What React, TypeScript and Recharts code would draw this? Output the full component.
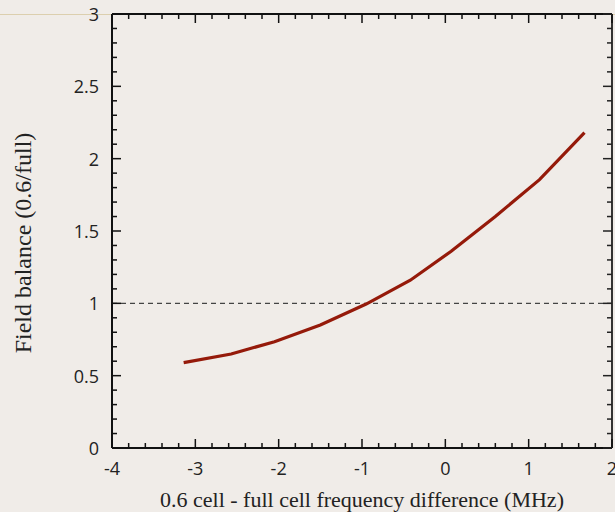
import { LineChart, Line, XAxis, YAxis, ReferenceLine } from "recharts";

// frequency difference (MHz) vs field balance (0.6/full)
const freqDiff = [-3.14, -2.57, -2.05, -1.5, -0.95, -0.42, 0.07, 0.6, 1.13, 1.67];
const fieldBalance = [0.59, 0.65, 0.735, 0.85, 0.995, 1.16, 1.36, 1.6, 1.855, 2.18];

const xMajor = [-4, -3, -2, -1, 0, 1, 2];
const yMajor = [0, 0.5, 1, 1.5, 2, 2.5, 3];

const data = freqDiff.map((x, i) => ({ x, y: fieldBalance[i] }));

// minor ticks: 5 per unit on x, 5 per half unit on y
const xTicks: number[] = [];
for (let i = 0; i <= 30; i++) xTicks.push(Math.round((-4 + i * 0.2) * 100) / 100);
const yTicks: number[] = [];
for (let i = 0; i <= 30; i++) yTicks.push(Math.round(i * 0.1 * 100) / 100);

const isMajorX = (v: number) => xMajor.includes(v);
const isMajorY = (v: number) => yMajor.includes(v);

const TICK_FONT = "'Open Sans', 'DejaVu Sans', sans-serif";
const TITLE_FONT = "'Liberation Serif', 'Times New Roman', serif";

const BottomTick = (props: any) => {
  const { x, y, payload } = props;
  const major = isMajorX(payload.value);
  return (
    <g>
      <line x1={x} x2={x} y1={y} y2={y - (major ? 9 : 5)} stroke="#111" strokeWidth={1.5} />
      {major && (
        <text x={x} y={y + 20} textAnchor="middle" dominantBaseline="central" fontSize={18} fontFamily={TICK_FONT} fill="#222">
          {payload.value}
        </text>
      )}
    </g>
  );
};

const TopTick = (props: any) => {
  const { x, y, payload } = props;
  const major = isMajorX(payload.value);
  return <line x1={x} x2={x} y1={y} y2={y + (major ? 9 : 5)} stroke="#111" strokeWidth={1.5} />;
};

const LeftTick = (props: any) => {
  const { x, y, payload } = props;
  const major = isMajorY(payload.value);
  return (
    <g>
      <line x1={x} x2={x + (major ? 9 : 5)} y1={y} y2={y} stroke="#111" strokeWidth={1.5} />
      {major && (
        <text x={x - 13} y={y} textAnchor="end" dominantBaseline="central" fontSize={18} fontFamily={TICK_FONT} fill="#222">
          {payload.value}
        </text>
      )}
    </g>
  );
};

const RightTick = (props: any) => {
  const { x, y, payload } = props;
  const major = isMajorY(payload.value);
  return <line x1={x} x2={x - (major ? 9 : 5)} y1={y} y2={y} stroke="#222" strokeWidth={1.5} />;
};

export default function App() {
  return (
    <div style={{ position: "absolute", left: 0, top: 0, width: 615, height: 512, background: "#f0ece8" }}>
      <div style={{ position: "absolute", left: 0, top: 14, width: 615, height: 1, background: "#dccfae" }} />
      <LineChart
        width={615}
        height={512}
        data={data}
        margin={{ top: 13, right: 2, bottom: 63, left: 111 }}
        style={{ position: "absolute", left: 0, top: 0 }}
      >
        <XAxis
          dataKey="x"
          type="number"
          domain={[-4, 2]}
          allowDataOverflow
          ticks={xTicks}
          interval={0}
          height={1}
          tickSize={0}
          tickMargin={0}
          tickLine={false}
          axisLine={{ stroke: "#111", strokeWidth: 2 }}
          tick={BottomTick}
          label={{
            content: (p: any) => {
              const vb = p.viewBox;
              return (
                <text x={vb.x + vb.width / 2} y={vb.y + 59} textAnchor="middle" fontSize={22} fontFamily={TITLE_FONT} fill="#222">
                  0.6 cell - full cell frequency difference (MHz)
                </text>
              );
            },
          }}
        />
        <XAxis
          xAxisId="top"
          orientation="top"
          dataKey="x"
          type="number"
          domain={[-4, 2]}
          allowDataOverflow
          ticks={xTicks}
          interval={0}
          height={1}
          tickSize={0}
          tickMargin={0}
          tickLine={false}
          axisLine={{ stroke: "#111", strokeWidth: 2 }}
          tick={TopTick}
        />
        <YAxis
          type="number"
          domain={[0, 3]}
          allowDataOverflow
          ticks={yTicks}
          interval={0}
          width={1}
          tickSize={0}
          tickMargin={0}
          tickLine={false}
          axisLine={{ stroke: "#111", strokeWidth: 2 }}
          tick={LeftTick}
          label={{
            content: (p: any) => {
              const vb = p.viewBox;
              const cx = 31;
              const cy = vb.y + vb.height / 2 + 12;
              return (
                <text x={cx} y={cy} transform={`rotate(-90 ${cx} ${cy})`} textAnchor="middle" fontSize={24} fontFamily={TITLE_FONT} fill="#222">
                  Field balance (0.6/full)
                </text>
              );
            },
          }}
        />
        <YAxis
          yAxisId="right"
          orientation="right"
          dataKey="y"
          type="number"
          domain={[0, 3]}
          allowDataOverflow
          ticks={yTicks}
          interval={0}
          width={1}
          tickSize={0}
          tickMargin={0}
          tickLine={false}
          axisLine={{ stroke: "#333", strokeWidth: 2 }}
          tick={RightTick}
        />
        <ReferenceLine y={1} stroke="#444" strokeWidth={1.2} strokeDasharray="5 4" />
        <Line
          dataKey="y"
          type="linear"
          stroke="#951a0a"
          strokeWidth={3.2}
          dot={false}
          isAnimationActive={false}
        />
      </LineChart>
    </div>
  );
}
